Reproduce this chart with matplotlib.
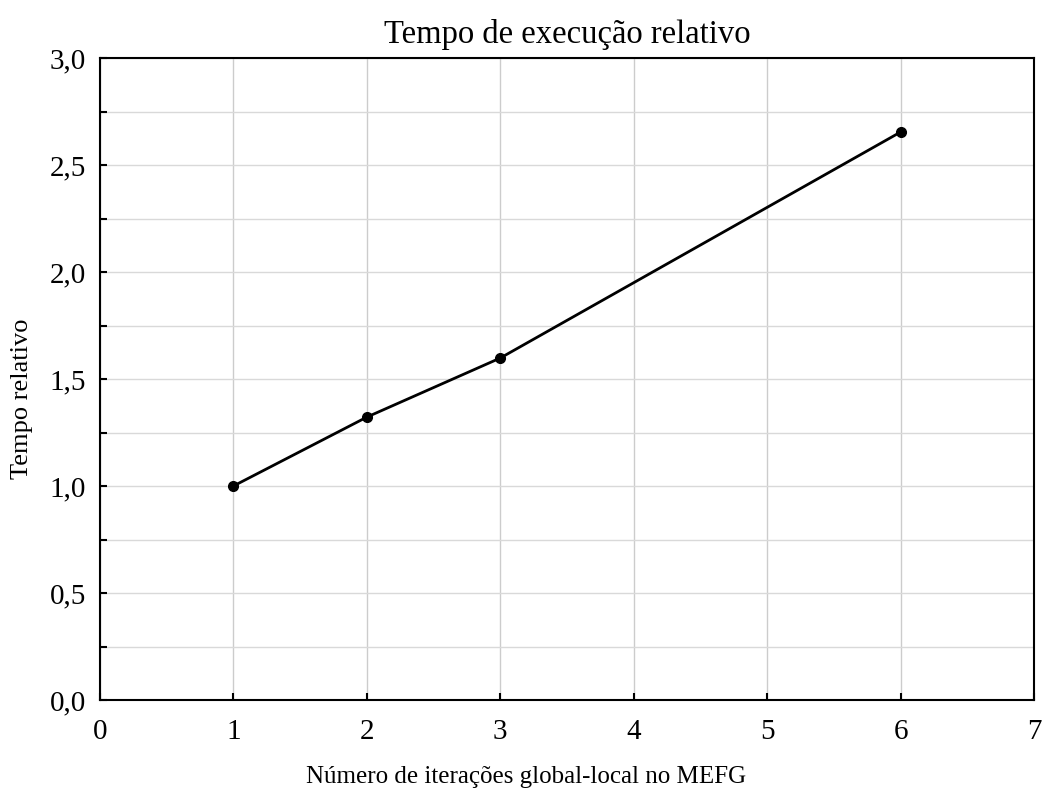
import matplotlib
matplotlib.use("Agg")
import matplotlib.pyplot as plt
from matplotlib.ticker import MultipleLocator, FuncFormatter

iteracoes = [1, 2, 3, 6]
tempo_relativo = [1.0, 1.322, 1.598, 2.654]

title = "Tempo de execução relativo"
xlabel = "Número de iterações global-local no MEFG"
ylabel = "Tempo relativo"

plt.rcParams['font.family'] = ['Liberation Serif', 'DejaVu Serif']

fig = plt.figure(figsize=(10.43, 7.91), dpi=100)
ax = fig.add_axes([100/1043, 1-700/791, (1034-100)/1043, (700-58)/791])

ax.plot(iteracoes, tempo_relativo, color='black', lw=2, marker='o', ms=7, zorder=3)

ax.set_xlim(0, 7)
ax.set_ylim(0, 3)
ax.xaxis.set_major_locator(MultipleLocator(1))
ax.yaxis.set_major_locator(MultipleLocator(0.5))
ax.yaxis.set_minor_locator(MultipleLocator(0.25))
ax.yaxis.set_major_formatter(FuncFormatter(lambda v, p: f"{v:.1f}".replace('.', ',')))

ax.grid(True, which='major', axis='x', color='#cccccc', lw=1)
ax.grid(True, which='both', axis='y', color='#d9d9d9', lw=1)
ax.set_axisbelow(True)

ax.tick_params(axis='both', which='both', direction='in', labelsize=21, length=5, width=1.5)
ax.tick_params(axis='x', pad=14)
ax.tick_params(axis='y', pad=10)
ax.tick_params(top=False, right=False)
for s in ax.spines.values():
    s.set_linewidth(1.5)

ax.set_title(title, fontsize=23.5, pad=11)
fig.text(526/1043, 1-777/791, xlabel, fontsize=18, ha='center', va='center')
fig.text(22/1043, 1-399/791, ylabel, fontsize=19, ha='center', va='center', rotation=90)

fig.savefig("out.png", dpi=100)
